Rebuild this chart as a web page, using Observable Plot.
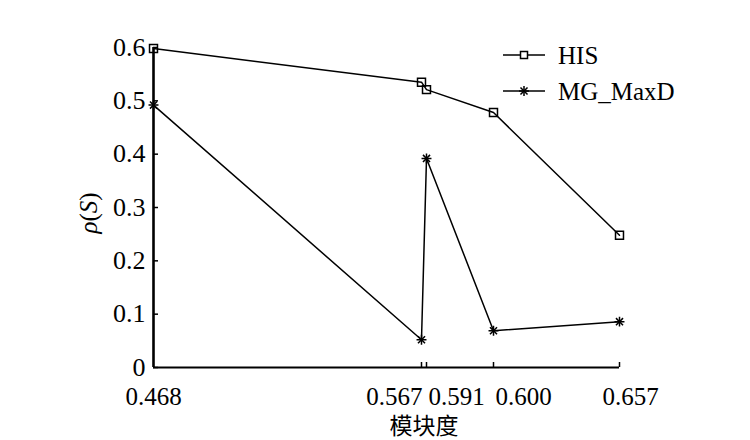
<!DOCTYPE html>
<html>
<head>
<meta charset="utf-8">
<script src="https://cdn.jsdelivr.net/npm/d3@7"></script>
<script src="https://cdn.jsdelivr.net/npm/@observablehq/plot@0.6"></script>
<style>
  body { margin: 0; background: #fff; }
  #chart { width: 750px; height: 440px; }
</style>
</head>
<body>
<div id="chart"></div>
<script>
// ---- data ----
const modularity = [0.468, 0.567, 0.591, 0.600, 0.657];
const xTickLabels = ["0.468", "0.567", "0.591", "0.600", "0.657"];
const seriesNames = ["HIS", "MG_MaxD"];
const hisValues = [0.598, 0.535, 0.521, 0.478, 0.248];
const mgMaxDValues = [0.492, 0.052, 0.392, 0.069, 0.086];
const yTicks = [0, 0.1, 0.2, 0.3, 0.4, 0.5, 0.6];
const yTickLabels = ["0", "0.1", "0.2", "0.3", "0.4", "0.5", "0.6"];
const xTitle = "模块度";

// ---- tidy table ----
const hisRows = hisValues.map((v, i) => ({series: seriesNames[0], x: modularity[i], y: v}));
const mgRows = mgMaxDValues.map((v, i) => ({series: seriesNames[1], x: modularity[i], y: v}));
const rows = hisRows.concat(mgRows);

const serif = '"Liberation Serif", "Times New Roman", serif';
const plotLeft = 153, plotRight = 619, plotTop = 47, plotBottom = 367;

const tickText = (which, opts) => Plot.text(which, {
  x: i => modularity[i], text: i => xTickLabels[i],
  frameAnchor: "bottom", lineAnchor: "bottom", dy: 37,
  fontSize: 25, fill: "black", ...opts
});

const svg = Plot.plot({
  width: 750, height: 440,
  marginLeft: plotLeft, marginRight: 750 - plotRight, marginTop: plotTop, marginBottom: 440 - plotBottom,
  style: {fontFamily: serif, fontSize: "25px", background: "white", color: "black"},
  x: {type: "linear", domain: modularity, range: [plotLeft, 421, 426, 493, plotRight]},
  y: {domain: [0, 0.6]},
  marks: [
    Plot.axisY(yTicks, {tickSize: 0, tickPadding: 8, fontSize: 26, label: null,
      tickFormat: d => yTickLabels[yTicks.indexOf(d)]}),
    Plot.axisY(yTicks, {text: null, tickSize: 5, dx: 5, strokeWidth: 1.5, label: null}),
    Plot.axisX(modularity.slice(1), {text: null, tickSize: 5, dy: -5, strokeWidth: 1.5, label: null}),
    tickText([0], {textAnchor: "middle"}),
    tickText([1], {textAnchor: "end", dx: 1}),
    tickText([2, 3], {textAnchor: "start", dx: 2}),
    tickText([4], {textAnchor: "middle", dx: 11}),
    Plot.ruleY([0], {stroke: "black", strokeWidth: 2.2}),
    Plot.ruleX([modularity[0]], {y1: 0, y2: 0.6, stroke: "black", strokeWidth: 2.6}),
    Plot.line(rows, {x: "x", y: "y", z: "series", stroke: "black", strokeWidth: 1.5}),
    Plot.dot(hisRows, {x: "x", y: "y", symbol: "square", r: 4.5, stroke: "black", strokeWidth: 1.5, fill: "none"}),
    Plot.dot(mgRows, {x: "x", y: "y", symbol: "plus", r: 3.3, stroke: "black", strokeWidth: 1.5}),
    Plot.dot(mgRows, {x: "x", y: "y", symbol: "times", r: 3.3, stroke: "black", strokeWidth: 1.5})
  ]
});

const s = d3.select(svg);

// y-axis title ρ(S)
const yt = s.append("text")
  .attr("transform", "translate(88,213) rotate(-90)")
  .attr("text-anchor", "middle").attr("dy", "0.35em")
  .style("font-family", serif).style("font-size", "25px").attr("fill", "black");
yt.append("tspan").style("font-style", "italic").text("ρ");
yt.append("tspan").text("(");
yt.append("tspan").style("font-style", "italic").text("S");
yt.append("tspan").text(")");

// x-axis title
s.append("text")
  .attr("x", 424).attr("y", 424)
  .attr("text-anchor", "middle").attr("dominant-baseline", "central")
  .style("font-family", '"Noto Sans CJK SC", sans-serif').style("font-size", "23px")
  .attr("fill", "black").text(xTitle);

// legend
const legend = s.append("g");
const legendRows = [
  {name: seriesNames[0], y: 55, symbols: [d3.symbolSquare], size: 49},
  {name: seriesNames[1], y: 91, symbols: [d3.symbolPlus, d3.symbolTimes], size: Math.PI * 3.3 * 3.3}
];
legendRows.forEach(r => {
  legend.append("line").attr("x1", 503).attr("x2", 545).attr("y1", r.y).attr("y2", r.y)
    .attr("stroke", "black").attr("stroke-width", 1.5);
  r.symbols.forEach(sym => {
    legend.append("path").attr("d", d3.symbol(sym, r.size)())
      .attr("transform", `translate(524,${r.y})`)
      .attr("fill", sym === d3.symbolSquare ? "white" : "none")
      .attr("stroke", "black").attr("stroke-width", 1.5);
  });
  legend.append("text").attr("x", 558).attr("y", r.y).attr("dy", "0.36em")
    .attr("text-anchor", "start")
    .style("font-family", serif).style("font-size", "25px").attr("fill", "black").text(r.name);
});

document.getElementById("chart").appendChild(svg);
</script>
</body>
</html>
